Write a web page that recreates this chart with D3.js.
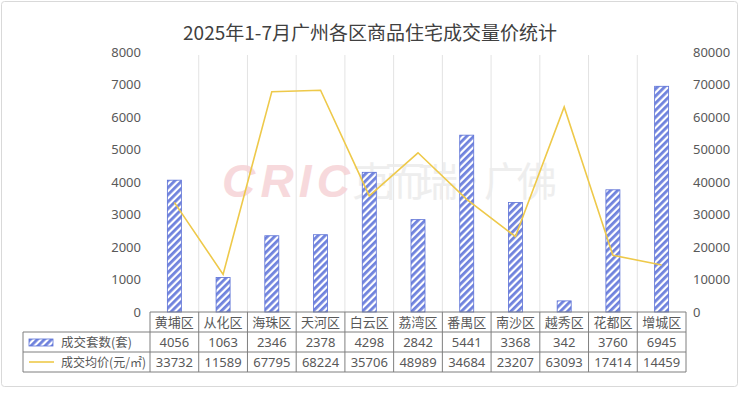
<!DOCTYPE html>
<html lang="zh">
<head>
<meta charset="UTF-8">
<title>2025年1-7月广州各区商品住宅成交量价统计</title>
<script src="https://d3js.org/d3.v7.min.js"></script>
<style>
    body { margin: 0; background: #fff; font-family: "Noto Sans CJK SC", "Noto Sans", sans-serif; }
    svg text { fill: #595959; }
</style>
</head>
<body>
<svg id="chart" width="740" height="397"></svg>
<script>
    // data
    const districts = ["黄埔区", "从化区", "海珠区", "天河区", "白云区", "荔湾区", "番禺区", "南沙区", "越秀区", "花都区", "增城区"];
    const units = [4056, 1063, 2346, 2378, 4298, 2842, 5441, 3368, 342, 3760, 6945];
    const prices = [33732, 11589, 67795, 68224, 35706, 48989, 34684, 23207, 63093, 17414, 14459];
    const leftTicks = [0, 1000, 2000, 3000, 4000, 5000, 6000, 7000, 8000];
    const rightTicks = [0, 10000, 20000, 30000, 40000, 50000, 60000, 70000, 80000];
    const seriesNames = ["成交套数(套)", "成交均价(元/㎡)"];

    const svg = d3.select("#chart");
    const plot = {left: 150, right: 686, top: 52, bottom: 312};
    const rowH = 20;
    const tableLeft = 23;

    // outer frame
    svg.append("rect")
        .attr("x", 1.5).attr("y", 1.5)
        .attr("width", 736).attr("height", 385)
        .attr("rx", 3)
        .attr("fill", "#fff")
        .attr("stroke", "#d9d9d9");

    // hatch pattern
    const defs = svg.append("defs");
    const pat = defs.append("pattern")
        .attr("id", "hatch")
        .attr("patternUnits", "userSpaceOnUse")
        .attr("width", 5).attr("height", 5)
        .attr("patternTransform", "rotate(45)");
    pat.append("rect").attr("width", 5).attr("height", 5).attr("fill", "#ffffff");
    pat.append("rect").attr("width", 2.8).attr("height", 5).attr("fill", "#6f82dd");

    const x = d3.scaleBand().domain(districts).range([plot.left, plot.right]);
    const yL = d3.scaleLinear().domain([0, 8000]).range([plot.bottom, plot.top]);
    const yR = d3.scaleLinear().domain([0, 80000]).range([plot.bottom, plot.top]);

    // title
    svg.append("text")
        .attr("x", 370).attr("y", 40)
        .attr("text-anchor", "middle")
        .style("font-size", "19px")
        .style("fill", "#404040")
        .text("2025年1-7月广州各区商品住宅成交量价统计");

    // vertical gridlines between categories
    svg.append("g").selectAll("line")
        .data(districts.slice(1))
        .enter().append("line")
        .attr("x1", d => x(d)).attr("x2", d => x(d))
        .attr("y1", plot.top + 3).attr("y2", plot.bottom)
        .attr("stroke", "#e3e3e3");

    // watermark
    const wm = svg.append("g").style("opacity", 0.85);
    wm.append("text")
        .attr("x", 222).attr("y", 197)
        .style("font-family", "'Liberation Sans', sans-serif")
        .style("font-size", "46px")
        .style("font-weight", "bold")
        .style("font-style", "italic")
        .style("fill", "#f6d3d6")
        .attr("textLength", 128)
        .text("CRIC");
    wm.append("text")
        .attr("x", 352).attr("y", 196)
        .style("font-size", "40px")
        .style("fill", "#ececec")
        .attr("textLength", 205)
        .text("克而瑞·广佛");

    // left axis
    const axL = svg.append("g")
        .attr("transform", `translate(${plot.left},0)`)
        .call(d3.axisLeft(yL).tickValues(leftTicks).tickSize(0).tickPadding(9).tickFormat(d3.format("d")));
    axL.select(".domain").remove();
    axL.selectAll("text").style("font-size", "13px").style("font-family", "'Noto Sans', sans-serif").style("fill", "#595959");

    // right axis
    const axR = svg.append("g")
        .attr("transform", `translate(${plot.right},0)`)
        .call(d3.axisRight(yR).tickValues(rightTicks).tickSize(0).tickPadding(7).tickFormat(d3.format("d")));
    axR.select(".domain").remove();
    axR.selectAll("text").style("font-size", "13px").style("font-family", "'Noto Sans', sans-serif").style("fill", "#595959");

    // bars
    const barW = 14;
    svg.append("g").selectAll("rect")
        .data(districts)
        .enter().append("rect")
        .attr("x", (d, i) => x(d) + x.bandwidth() / 2 - barW / 2)
        .attr("y", (d, i) => yL(units[i]))
        .attr("width", barW)
        .attr("height", (d, i) => plot.bottom - yL(units[i]))
        .attr("fill", "url(#hatch)")
        .attr("stroke", "#5b70d6")
        .attr("stroke-width", 0.8);

    // price line
    const line = d3.line()
        .x((d, i) => x(districts[i]) + x.bandwidth() / 2)
        .y(d => yR(d));
    svg.append("path")
        .datum(prices)
        .attr("d", line)
        .attr("fill", "none")
        .attr("stroke", "#eec94a")
        .attr("stroke-width", 1.6);

    // data table
    const tbl = svg.append("g").attr("class", "table");
    const t0 = plot.bottom;
    const tableStroke = "#7f7f7f";
    // horizontal lines
    tbl.append("line").attr("x1", plot.left).attr("x2", plot.right).attr("y1", t0).attr("y2", t0).attr("stroke", tableStroke);
    [1, 2, 3].forEach(r => {
        tbl.append("line")
            .attr("x1", tableLeft).attr("x2", plot.right)
            .attr("y1", t0 + r * rowH).attr("y2", t0 + r * rowH)
            .attr("stroke", tableStroke);
    });
    // vertical lines
    tbl.append("line").attr("x1", tableLeft).attr("x2", tableLeft).attr("y1", t0 + rowH).attr("y2", t0 + 3 * rowH).attr("stroke", tableStroke);
    districts.forEach(d => {
        tbl.append("line").attr("x1", x(d)).attr("x2", x(d)).attr("y1", t0).attr("y2", t0 + 3 * rowH).attr("stroke", tableStroke);
    });
    tbl.append("line").attr("x1", plot.right).attr("x2", plot.right).attr("y1", t0).attr("y2", t0 + 3 * rowH).attr("stroke", tableStroke);

    // category labels
    tbl.selectAll("text.cat")
        .data(districts)
        .enter().append("text")
        .attr("class", "cat")
        .attr("x", d => x(d) + x.bandwidth() / 2)
        .attr("y", t0 + rowH / 2 + 4.5)
        .attr("text-anchor", "middle")
        .style("font-size", "13px")
        .text(d => d);

    [units, prices].forEach((vals, r) => {
        tbl.selectAll("text.v" + r)
            .data(vals)
            .enter().append("text")
            .attr("class", "v" + r)
            .attr("x", (d, i) => x(districts[i]) + x.bandwidth() / 2)
            .attr("y", t0 + (r + 1) * rowH + rowH / 2 + 4.5)
            .attr("text-anchor", "middle")
            .style("font-size", "13px")
            .style("font-family", "'Noto Sans', sans-serif")
            .text(d => d);
    });

    // legend cells
    tbl.append("rect")
        .attr("x", 29).attr("y", t0 + rowH + 7)
        .attr("width", 24).attr("height", 7)
        .attr("fill", "url(#hatch)")
        .attr("stroke", "#5b70d6").attr("stroke-width", 0.8);
    tbl.append("line")
        .attr("x1", 29).attr("x2", 54)
        .attr("y1", t0 + 2.5 * rowH).attr("y2", t0 + 2.5 * rowH)
        .attr("stroke", "#eec94a").attr("stroke-width", 1.6);
    seriesNames.forEach((s, r) => {
        tbl.append("text")
            .attr("x", 61)
            .attr("y", t0 + (r + 1) * rowH + rowH / 2 + 4.5)
            .style("font-size", "12.5px")
            .attr("textLength", r === 1 ? 85 : null)
            .attr("lengthAdjust", "spacingAndGlyphs")
            .text(s);
    });
</script>
</body>
</html>
